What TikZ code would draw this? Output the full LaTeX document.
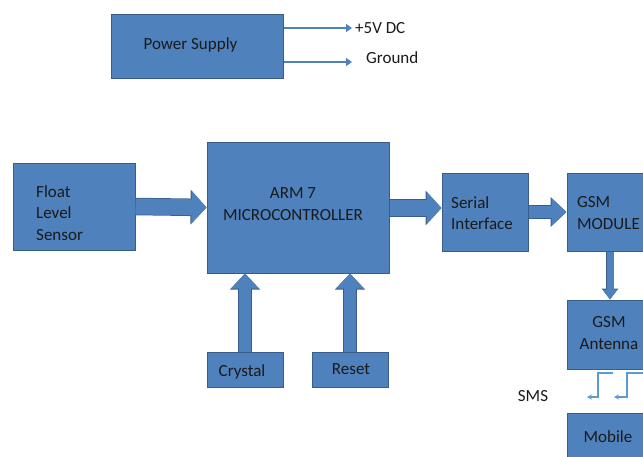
\documentclass[tikz,border=0pt]{standalone}
\usepackage{fontspec}
\setmainfont{Carlito}
\usetikzlibrary{arrows.meta}

\definecolor{boxblue}{HTML}{4F81BD}
\definecolor{boxedge}{HTML}{385D8A}
\definecolor{smsblue}{HTML}{5B9BD5}
\definecolor{txtdark}{HTML}{1A1A1A}

\tikzset{
    block/.style={draw=boxedge, fill=boxblue, line width=1pt, inner sep=0pt},
    txt/.style={text=txtdark, inner sep=0pt, font=\fontsize{17}{21.5}\selectfont},
    fatarrow/.style={boxblue, line width=16pt, -{Triangle[length=15pt,width=32pt]},
        preaction={draw=boxedge, line width=17.5pt, -{Triangle[length=16pt,width=34pt]}}},
    midarrow/.style={boxblue, line width=12pt, -{Triangle[length=15pt,width=27pt]},
        preaction={draw=boxedge, line width=13.5pt, -{Triangle[length=16pt,width=29pt]}}},
    thinarrow/.style={boxblue, line width=7pt, -{Triangle[length=10pt,width=14pt]},
        preaction={draw=boxedge, line width=8.5pt, -{Triangle[length=11pt,width=16pt]}}},
    wire/.style={boxblue, line width=2.5pt, -{Triangle[length=6pt,width=8pt]}},
    smsline/.style={smsblue, line width=1.2pt, -{Stealth[length=5pt,width=5pt]}}
}

\begin{document}
\begin{tikzpicture}[x=1pt,y=-1pt]

    \clip (0,0) rectangle (643,456);

    % Draw power supply
    \node[block, minimum width=172pt, minimum height=64pt] (ps) at (197,46) {};
    \node[txt] (pstxt) at (190.5,45) {Power Supply};
    \coordinate (vcc) at (352,28);
    \coordinate (gnd) at (352,62);
    \draw[wire] (ps.east |- vcc) -- (vcc);
    \draw[wire] (ps.east |- gnd) -- (gnd);
    \node[txt, anchor=west] (vcctxt) at (355,28) {+5V DC};
    \node[txt, anchor=west] (gndtxt) at (366,58) {Ground};

    % Draw blocks
    \node[block, minimum width=122pt, minimum height=87pt] (fls) at (74,206.5) {};
    \node[txt, anchor=west, align=left] (flstxt) at (36,213) {Float\\Level\\Sensor};

    \node[block, minimum width=182pt, minimum height=131pt] (arm) at (298,207.5) {};
    \node[txt, align=center] (armtxt) at (293,204) {ARM 7\\MICROCONTROLLER};

    \node[block, minimum width=86pt, minimum height=78pt] (ser) at (485,212) {};
    \node[txt, anchor=west, align=left] (sertxt) at (451,213) {Serial\\Interface};

    \node[block, minimum width=86pt, minimum height=78pt] (gsm) at (610,212) {};
    \node[txt, anchor=west, align=left] (gsmtxt) at (577,213) {GSM\\MODULE};

    \node[block, minimum width=86pt, minimum height=69pt] (ant) at (610,334.5) {};
    \node[txt, align=center] (anttxt) at (609,333) {GSM\\Antenna};

    \node[block, minimum width=86pt, minimum height=60pt] (mob) at (610,443) {};
    \node[txt] (mobtxt) at (608,437) {Mobile};

    \node[block, minimum width=76pt, minimum height=35pt] (xtal) at (245,369.5) {};
    \node[txt] (xtaltxt) at (242,372) {Crystal};

    \node[block, minimum width=76pt, minimum height=35pt] (rst) at (350,369.5) {};
    \node[txt] (rsttxt) at (351,369) {Reset};

    % Draw block arrows
    \draw[fatarrow] (fls.east) -- (arm.west);
    \draw[fatarrow] (arm.east |- 0,208) -- (ser.west |- 0,208);
    \draw[midarrow] (ser.east) -- (gsm.west);
    \draw[thinarrow] (gsm.south) -- (ant.north);
    \draw[midarrow] (xtal.north) -- (xtal.north |- arm.south);
    \draw[midarrow] (rst.north) -- (rst.north |- arm.south);

    % SMS link
    \coordinate (sms1) at (613,373);
    \coordinate (sms2) at (643,373);
    \draw[smsline] (sms1) -- ++(-15,0) -- ++(0,24) -- ++(-11,0);
    \draw[smsline] (sms2) -- ++(-16,0) -- ++(0,24) -- ++(-13,0);
    \node[txt] (smstxt) at (533,396) {SMS};

\end{tikzpicture}
\end{document}
